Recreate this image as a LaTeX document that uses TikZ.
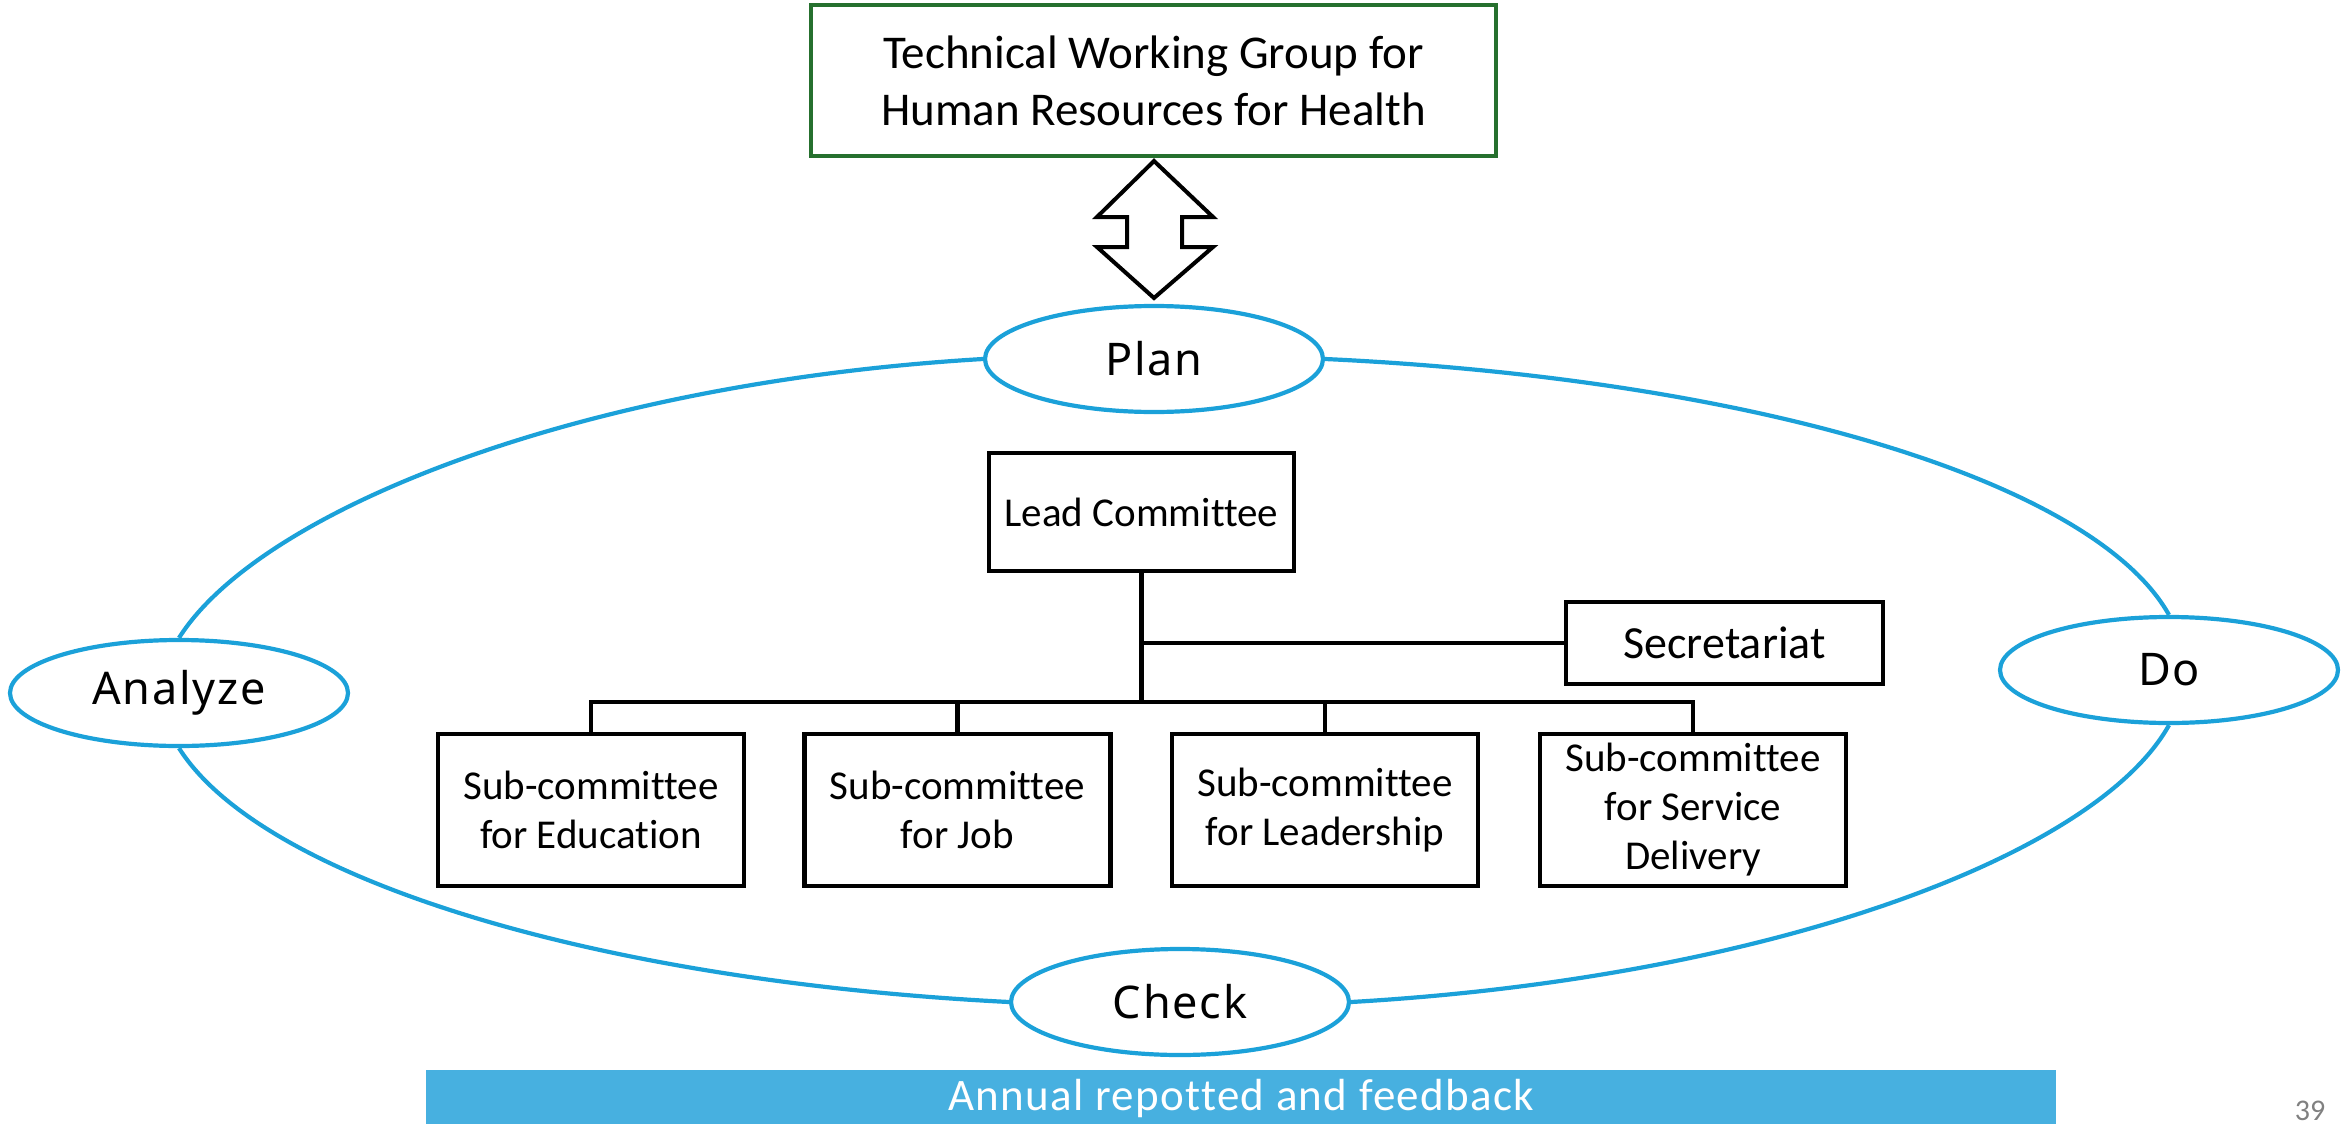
\documentclass[tikz,border=0pt]{standalone}
\usepackage{fontspec}
\setmainfont{Carlito}[Ligatures={NoCommon}]
\newfontfamily\pdcafont{Noto Sans}[LetterSpace=4]
\usetikzlibrary{shapes.geometric,calc}
\definecolor{loopblue}{RGB}{27,161,217}
\definecolor{barblue}{RGB}{71,176,224}
\definecolor{twggreen}{RGB}{38,112,46}
\definecolor{pagegrey}{RGB}{128,128,128}
\tikzset{
  orgbox/.style={draw=black, line width=4.2pt, fill=white, inner sep=0pt, align=center,
                 font=\fontsize{41}{49}\selectfont},
  pdca/.style={ellipse, draw=loopblue, line width=4.2pt, fill=white, inner sep=0pt,
               minimum width=338pt, minimum height=106pt, font=\pdcafont\fontsize{45}{54}\selectfont},
  loopline/.style={draw=loopblue, line width=4.2pt},
  treeline/.style={draw=black, line width=4.2pt},
}
\begin{document}
\begin{tikzpicture}[x=1pt,y=-1pt]
\useasboundingbox (0,0) rectangle (2343,1124);

% PDCA nodes
\node[pdca] (Plan) at (1154,359) {Plan};
\node[pdca] (Do) at (2169,670) {Do};
\node[pdca] (Check) at (1180,1002) {Check};
\node[pdca] (Analyze) at (179,693) {Analyze};

% loop connectors
\draw[loopline] (Plan.west) .. controls (578,383) and (259,511) .. (Analyze.north);
\draw[loopline] (Analyze.south) .. controls (261,878) and (593,981) .. (Check.west);
\draw[loopline] (Check.east) .. controls (1768,978) and (2096,856) .. (Do.south);
\draw[loopline] (Do.north) .. controls (2094,481) and (1753,379) .. (Plan.east);

% Technical working group
\node[draw=twggreen, line width=4.2pt, inner sep=0pt, minimum width=685pt, minimum height=151pt,
      align=center, font=\fontsize{47}{57}\selectfont] (TWG) at (1153.5,80.5)
      {Technical Working Group for\\Human Resources for Health};

% double arrow
\draw[line width=4pt, line join=miter, fill=white]
  (1154,161) -- (1213,217) -- (1182,217) -- (1182,247) -- (1213,247) -- (1154,298)
  -- (1097,247) -- (1127,247) -- (1127,217) -- (1097,217) -- cycle;

% org chart
\node[orgbox, minimum width=305pt, minimum height=118pt] (Lead) at (1141.5,512) {Lead Committee};
\node[orgbox, minimum width=317pt, minimum height=82pt, font=\fontsize{46}{55}\selectfont] (Sec) at (1724.5,643) {Secretariat};
\node[orgbox, minimum width=306pt, minimum height=152pt] (s1) at (591,810) {Sub-committee\\for Education};
\node[orgbox, minimum width=306pt, minimum height=152pt] (s2) at (957.5,810) {Sub-committee\\for Job};
\node[orgbox, minimum width=306pt, minimum height=152pt] (s3) at (1325,810) {Sub-committee\\for Leadership};
\node[orgbox, minimum width=306pt, minimum height=152pt] (s4) at (1693,810) {Sub-committee\\for Service\\Delivery};

\coordinate (J) at (Lead.south |- 0,702);
\draw[treeline] (Lead.south) -- (J);
\draw[treeline] (Lead.south |- Sec.west) -- (Sec.west);
\draw[treeline] (s1.north) |- (J) -| (s4.north);
\draw[treeline] (s2.north) -- (s2.north |- J);
\draw[treeline] (s3.north) -- (s3.north |- J);

% bottom bar
\node[fill=barblue, inner sep=0pt, minimum width=1630pt, minimum height=56pt, anchor=north west,
      text=white, font=\addfontfeatures{LetterSpace=3}\fontsize{45}{54}\selectfont] (Bar) at (426,1070)
      {Annual repotted and feedback};

% page number
\node[text=pagegrey, anchor=base, inner sep=0pt, font=\fontsize{30}{36}\selectfont] (Page) at (2310,1120) {39};
\end{tikzpicture}
\end{document}
